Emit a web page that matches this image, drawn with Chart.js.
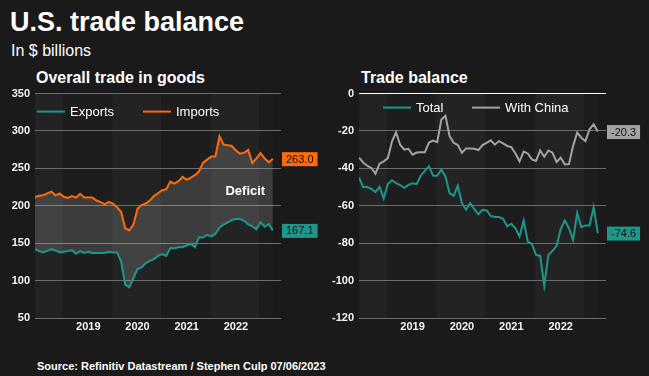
<!DOCTYPE html>
<html>
<head>
<meta charset="utf-8">
<script src="https://cdn.jsdelivr.net/npm/chart.js@4.4.0/dist/chart.umd.min.js"></script>
<style>
  body { margin: 0; background: #1a1a1a; width: 649px; height: 376px; overflow: hidden; position: relative;
         font-family: "Liberation Sans", Arial, sans-serif; color: #fff; }
  .t { position: absolute; white-space: nowrap; line-height: 1; }
  #title { left: 10px; top: 9px; font-size: 27px; font-weight: bold; }
  #sub { left: 11px; top: 43px; font-size: 16px; }
  .ptitle { top: 70px; font-size: 16px; font-weight: bold; }
  #src { left: 37px; top: 361px; font-size: 11px; font-weight: bold; }
  canvas { position: absolute; top: 82px; }
  #goods { left: 0; }
  #balance { left: 325px; }
</style>
</head>
<body>
<div class="t" id="title">U.S. trade balance</div>
<div class="t" id="sub">In $ billions</div>
<div class="t ptitle" style="left:36px">Overall trade in goods</div>
<div class="t ptitle" style="left:361px">Trade balance</div>
<div class="t" id="src">Source: Refinitiv Datastream / Stephen Culp 07/06/2023</div>
<canvas id="goods" width="325" height="294"></canvas>
<canvas id="balance" width="324" height="294"></canvas>
<script>
// monthly, Jun 2018 - Apr 2023
const months = [
  '2018-06', '2018-07', '2018-08', '2018-09', '2018-10', '2018-11', '2018-12',
  '2019-01', '2019-02', '2019-03', '2019-04', '2019-05', '2019-06', '2019-07', '2019-08', '2019-09', '2019-10', '2019-11', '2019-12',
  '2020-01', '2020-02', '2020-03', '2020-04', '2020-05', '2020-06', '2020-07', '2020-08', '2020-09', '2020-10', '2020-11', '2020-12',
  '2021-01', '2021-02', '2021-03', '2021-04', '2021-05', '2021-06', '2021-07', '2021-08', '2021-09', '2021-10', '2021-11', '2021-12',
  '2022-01', '2022-02', '2022-03', '2022-04', '2022-05', '2022-06', '2022-07', '2022-08', '2022-09', '2022-10', '2022-11', '2022-12',
  '2023-01', '2023-02', '2023-03', '2023-04'
];
const years = ['2019', '2020', '2021', '2022'];

// goods, $ billions
const exportsData = [
  142, 139.4, 138, 139.8, 142, 140.3, 137.6,
  138.5, 139.4, 140.7, 135.8, 139.4, 137, 138.5, 137, 137, 137, 137, 138.5,
  137.6, 138, 125.7, 94.7, 91, 103.5, 115.5, 117.7, 123.5, 126.5, 128.8, 133,
  135.4, 133, 143.4, 143.4, 144.7, 144.7, 147, 149, 144.7, 158, 157.5, 161,
  159, 162.4, 170.8, 175, 178, 181, 182.3, 182.3, 180, 175, 172.5, 168.6,
  178, 172, 175.6, 167.1
];
const importsData = [
  211.7, 213.5, 214, 216.5, 219, 214, 216.6,
  212, 210.5, 213, 211, 216, 211, 211, 211, 207, 205, 202, 205.4,
  203, 198, 192, 170, 167, 175, 196, 201, 203, 207, 213, 216.7,
  221, 222, 232.4, 229.7, 233, 238.7, 234.7, 237.8, 241, 246, 257.7, 261.7,
  266, 266, 292.8, 281.8, 281, 280, 273.9, 269.8, 270.7, 274.8, 257.2, 263.5,
  270.3, 263.5, 258, 263.0
];

// trade balance, $ billions
const totalData = [
  -44.8, -50, -50, -50.9, -52.7, -49.8, -56,
  -48.4, -46.3, -47.9, -48.9, -50.4, -48.8, -47.9, -48.4, -43.9, -41.3, -38.9, -43.9,
  -43.9, -40.7, -44.3, -53.2, -54.6, -49.3, -58.6, -62.1, -58.6, -61.8, -64.5, -62.1,
  -62.5, -65.4, -66, -66, -67, -71, -69.6, -72, -76.4, -67.9, -79.1, -80.4,
  -86.3, -86.8, -102.7, -86.3, -84.1, -81.4, -72.5, -67.9, -72, -78.2, -63.9, -71.4,
  -70.5, -70.5, -60.7, -74.6
];
const chinaData = [
  -34.2, -36.8, -38.6, -39.8, -42.8, -37.5, -36.3,
  -34.5, -25.7, -20.7, -27.4, -30, -29.5, -32.7, -31.5, -31.3, -31.3, -26.2, -25.1,
  -26, -14, -11.8, -22.7, -26.3, -27.5, -31.6, -29.3, -29.3, -29.5, -30.2, -27.5,
  -26.3, -25, -27.3, -25.4, -26.6, -28, -28.6, -32, -36.2, -31, -32, -35.2,
  -36, -30.4, -33.75, -30.4, -31.6, -36.6, -34.3, -37.9, -37.7, -28, -20.9, -23.6,
  -25.4, -19.1, -16.4, -20.3
];

const TEAL = '#1e978a';
const ORANGE = '#ff6a0a';
const GREY = '#a3a3a3';
const FONT = '"Liberation Sans", Arial, sans-serif';

const pts = arr => arr.map((v, i) => ({ x: i, y: v }));
const yearTicks = years.map(y => months.indexOf(y + '-07'));
const yearStarts = years.concat(['2023']).map(y => months.indexOf(y + '-01') - 0.2);

// alternating year bands, legend, end-value boxes, text note
const decor = {
  id: 'decor',
  beforeDraw(chart) {
    const { ctx, chartArea: a, scales: { x } } = chart;
    const edges = [0].concat(yearStarts, [months.length - 1]);
    ctx.save();
    for (let i = 0; i < edges.length - 1; i++) {
      ctx.fillStyle = i % 2 === 0 ? '#232323' : '#1d1d1d';
      const x0 = x.getPixelForValue(edges[i]);
      const x1 = x.getPixelForValue(edges[i + 1]);
      ctx.fillRect(x0, a.top, x1 - x0, a.bottom - a.top);
    }
    ctx.restore();
  },
  afterDraw(chart, args, opts) {
    const { ctx, chartArea: a } = chart;
    ctx.save();
    // legend
    ctx.font = '13px ' + FONT;
    ctx.textBaseline = 'middle';
    chart.data.datasets.forEach((ds, i) => {
      const lx = a.left + opts.legendX[i];
      const ly = a.top + opts.legendY;
      ctx.strokeStyle = ds.borderColor;
      ctx.lineWidth = 2;
      ctx.beginPath();
      ctx.moveTo(lx, ly);
      ctx.lineTo(lx + 28, ly);
      ctx.stroke();
      ctx.fillStyle = '#fff';
      ctx.fillText(ds.label, lx + 33, ly + 1);
    });
    // last values
    ctx.font = '11px ' + FONT;
    chart.data.datasets.forEach((ds, i) => {
      const meta = chart.getDatasetMeta(i);
      const last = meta.data[meta.data.length - 1];
      const txt = ds.data[ds.data.length - 1].y.toFixed(1);
      const w = ctx.measureText(txt).width + 8;
      ctx.fillStyle = ds.borderColor;
      ctx.fillRect(a.right + 1, last.y - 6.5, w, 14);
      ctx.fillStyle = '#111';
      ctx.fillText(txt, a.right + 5, last.y + 1);
    });
    if (opts.note) {
      ctx.font = 'bold 13px ' + FONT;
      ctx.fillStyle = '#fff';
      ctx.textAlign = 'center';
      ctx.fillText(opts.note.text, chart.scales.x.getPixelForValue(opts.note.x), chart.scales.y.getPixelForValue(opts.note.y));
    }
    ctx.restore();
  }
};

function makeOptions(yMin, yMax, step, yWidth, rightPad, decorOpts, zeroWhite) {
  return {
    responsive: false,
    animation: false,
    devicePixelRatio: 1,
    layout: { padding: { top: 0, right: rightPad, bottom: 38, left: 0 } },
    elements: { point: { radius: 0 }, line: { borderWidth: 2, tension: 0 } },
    scales: {
      x: {
        type: 'linear', min: 0, max: 60,
        grid: { display: false, drawTicks: false },
        border: { display: false },
        afterBuildTicks: s => { s.ticks = yearTicks.map(v => ({ value: v })); },
        afterFit: s => { s.height = 20; },
        ticks: {
          autoSkip: false, maxRotation: 0, padding: 2,
          color: '#f4f4f4', font: { family: FONT, size: 11, weight: 'bold' },
          callback: v => years[yearTicks.indexOf(v)]
        }
      },
      y: {
        min: yMin, max: yMax,
        border: { display: false },
        grid: {
          drawTicks: false, lineWidth: 1,
          color: c => (zeroWhite && c.tick && c.tick.value === 0) ? '#ffffff' : '#6c6c6c'
        },
        afterFit: s => { s.width = yWidth; },
        ticks: { stepSize: step, padding: 5, color: '#f4f4f4', font: { family: FONT, size: 11, weight: 'bold' } }
      }
    },
    plugins: { legend: { display: false }, tooltip: { enabled: false }, decor: decorOpts }
  };
}

new Chart(document.getElementById('goods'), {
  type: 'line',
  data: {
    datasets: [
      { label: 'Exports', data: pts(exportsData), borderColor: TEAL, fill: false },
      { label: 'Imports', data: pts(importsData), borderColor: ORANGE, fill: '-1', backgroundColor: 'rgba(255,255,255,0.14)' }
    ]
  },
  options: makeOptions(50, 350, 50, 35, 44, { legendX: [2, 108], legendY: 18, note: { text: 'Deficit', x: 51.3, y: 218.8 } }, false),
  plugins: [decor]
});

new Chart(document.getElementById('balance'), {
  type: 'line',
  data: {
    datasets: [
      { label: 'Total', data: pts(totalData), borderColor: TEAL, fill: false },
      { label: 'With China', data: pts(chinaData), borderColor: GREY, fill: false }
    ]
  },
  options: makeOptions(-120, 0, 20, 34, 43, { legendX: [24, 113], legendY: 14 }, true),
  plugins: [decor]
});
</script>
</body>
</html>
